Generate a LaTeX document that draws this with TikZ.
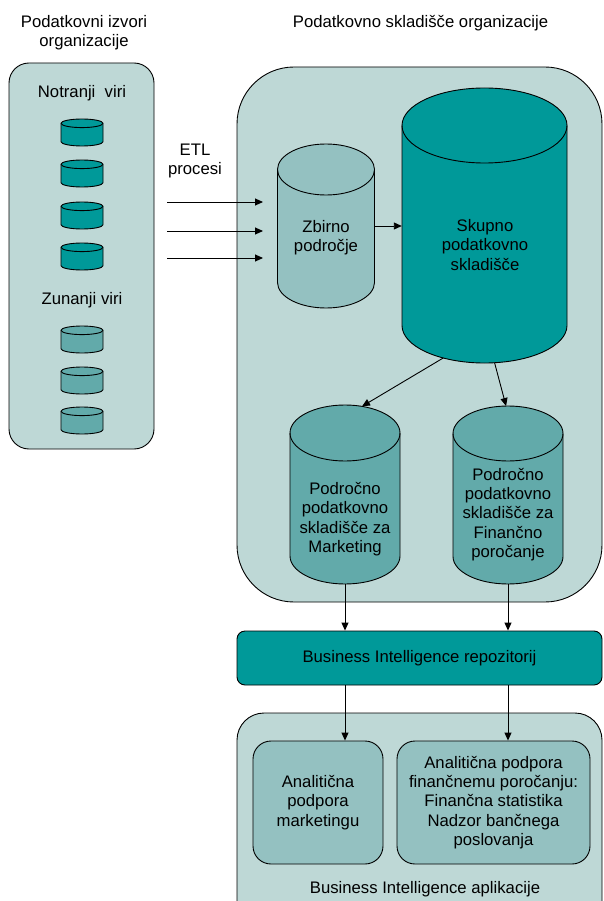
\documentclass[tikz,border=0pt]{standalone}
\usepackage{fontspec}
\setmainfont{Liberation Sans}
\usepackage{tikz}
\usetikzlibrary{calc}
\usetikzlibrary{arrows.meta}
\usetikzlibrary{positioning}
\definecolor{tealdark}{RGB}{0,153,153}
\definecolor{tealmid}{RGB}{98,170,170}
\definecolor{teallight}{RGB}{148,193,193}
\definecolor{pale}{RGB}{190,216,214}
\tikzset{>=latex}
\tikzstyle{lbl} = [align=center, font=\fontsize{16.7}{19.3}\selectfont, inner sep=0pt]
\tikzstyle{flow} = [-{Triangle[length=8pt, width=7pt]}, line width=0.9pt]
\tikzstyle{container} = [fill=pale, draw=black, line width=0.9pt]
\tikzstyle{appbox} = [lbl, fill=teallight, draw=black, line width=0.9pt, rounded corners=18pt, minimum height=123pt]

% upright cylinder: name, centre x, top y, bottom y, x radius, y radius, fill
\newcommand{\dbcyl}[7]{%
  \coordinate (#1-top) at (#2,#3+#6);
  \coordinate (#1-bot) at (#2,#4-#6);
  \filldraw[fill=#7, draw=black, line width=0.9pt] ($(#1-top)+(-#5pt,0pt)$) -- ($(#1-bot)+(-#5pt,0pt)$)
    arc[start angle=180, end angle=360, x radius=#5pt, y radius=#6pt] -- ($(#1-top)+(#5pt,0pt)$)
    arc[start angle=0, end angle=180, x radius=#5pt, y radius=#6pt] -- cycle;
  \draw[line width=0.9pt] ($(#1-top)+(-#5pt,0pt)$) arc[start angle=180, end angle=360, x radius=#5pt, y radius=#6pt];
  \node[draw=none, inner sep=0pt, minimum width={2*#5*1pt}, minimum height={(#4)*1pt-(#3)*1pt}] (#1) at (#2,{(#3+#4)/2}) {};
}

\begin{document}
\begin{tikzpicture}[x=1pt, y=-1pt]
\useasboundingbox (0,0) rectangle (603,901);
\clip (0,0) rectangle (603,901);

% containers
\draw[container, rounded corners=20pt] (9,63) rectangle (154,449);
\draw[container, rounded corners=57pt] (237,67) rectangle (602,602);
\draw[container, rounded corners=27pt] (237,713) rectangle (602,940);

% titles
\node[lbl] (srctitle) at (84,33) {Podatkovni izvori\\organizacije};
\node[lbl] (dwtitle) at (420.5,23) {Podatkovno skladišče organizacije};

% sources
\node[lbl] (notranji) at (82,93) {Notranji\ \ viri};
\foreach \y [count=\i] in {119,160,202,243} {
  \dbcyl{in\i}{82}{\y}{\y+27}{21}{4.3}{tealdark}
}
\node[lbl] (zunanji) at (82,300) {Zunanji viri};
\foreach \y [count=\i] in {326,367,407} {
  \dbcyl{ext\i}{82}{\y}{\y+27}{21}{4.3}{tealmid}
}

% ETL
\node[lbl] (etl) at (195,161) {ETL\\procesi};
\foreach \y [count=\i] in {202,231,258} {
  \coordinate (etl\i) at (167,\y);
  \draw[flow] (etl\i) -- ++(96,0);
}

% warehouse
\dbcyl{zbirno}{326}{144}{308}{48.5}{25.5}{teallight}
\node[lbl] (zbirno-txt) at (326,238) {Zbirno\\področje};
\dbcyl{skupno}{484.5}{88}{363}{82.5}{37.5}{tealdark}
\node[lbl] (skupno-txt) at (485,245) {Skupno\\podatkovno\\skladišče};
\dbcyl{mkt}{345}{405}{584}{55}{28}{tealmid}
\node[lbl] (mkt-txt) at (345,519) {Področno\\podatkovno\\skladišče za\\Marketing};
\dbcyl{fin}{508}{406}{584}{55}{27.5}{tealmid}
\node[lbl] (fin-txt) at (508,514.5) {Področno\\podatkovno\\skladišče za\\Finančno\\poročanje};

\draw[flow] (zbirno.east) -- (zbirno.east -| skupno.west);
\draw[flow] ($(skupno-bot)+(240:82.5pt and 37.5pt)$) -- ($(mkt-top)+(72:55pt and 28pt)$);
\draw[flow] ($(skupno-bot)+(277:82.5pt and 37.5pt)$) -- ($(fin-top)+(92:55pt and 27.5pt)$);

% BI
\node[lbl, fill=tealdark, draw=black, line width=0.9pt, rounded corners=8pt, minimum width=365pt, minimum height=54pt] (birepo) at (419.5,658) {Business Intelligence repozitorij};
\draw[flow] (mkt.south) -- (mkt.south |- birepo.north);
\draw[flow] (fin.south) -- (fin.south |- birepo.north);

\node[appbox, minimum width=130pt] (amkt) at (318,802.5) {Analitična\\podpora\\marketingu};
\node[appbox, minimum width=193pt] (afin) at (493.5,802.5) {Analitična podpora\\finančnemu poročanju:\\Finančna statistika\\Nadzor bančnega\\poslovanja};
\draw[flow] (birepo.south -| mkt) -- (amkt.north -| mkt);
\draw[flow] (birepo.south -| fin) -- (afin.north -| fin);
\node[lbl] (bitxt) at (425,889) {Business Intelligence aplikacije};
\end{tikzpicture}
\end{document}
